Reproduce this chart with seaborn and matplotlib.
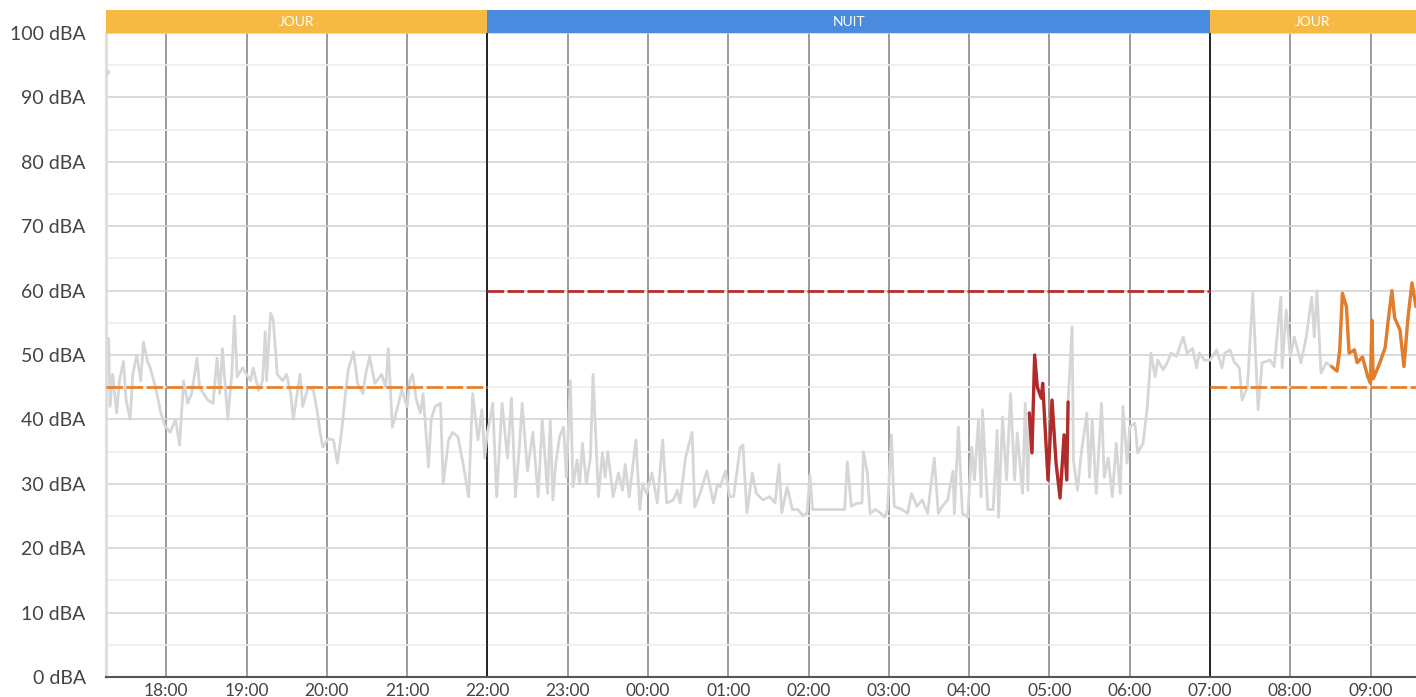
import pandas as pd
import matplotlib
matplotlib.use("Agg")
import matplotlib.pyplot as plt
import matplotlib.dates as mdates
from matplotlib.ticker import MultipleLocator
import seaborn as sns

# niveaux sonores relevés (heure, dBA)
heures = [
    "17:17", "17:18", "17:20", "17:23", "17:25", "17:28", "17:30", "17:33", "17:35", "17:38",
    "17:41", "17:43", "17:46", "17:48", "17:52", "17:56", "17:59", "18:03", "18:07", "18:10",
    "18:13", "18:16", "18:19", "18:23", "18:25", "18:28", "18:31", "18:35", "18:38", "18:40",
    "18:42", "18:46", "18:49", "18:51", "18:53", "18:57", "19:00", "19:03", "19:05", "19:09",
    "19:12", "19:14", "19:15", "19:18", "19:20", "19:23", "19:27", "19:30", "19:33", "19:35",
    "19:40", "19:42", "19:46", "19:50", "19:53", "19:55", "19:57", "20:01", "20:05", "20:08",
    "20:11", "20:14", "20:16", "20:20", "20:23", "20:27", "20:29", "20:32", "20:36", "20:41",
    "20:44", "20:46", "20:49", "20:53", "20:56", "21:00", "21:02", "21:04", "21:07", "21:10",
    "21:12", "21:16", "21:18", "21:21", "21:25", "21:27", "21:31", "21:34", "21:38", "21:42",
    "21:46", "21:49", "21:53", "21:56", "21:58", "22:00",
    "22:02", "22:04", "22:07", "22:11", "22:15", "22:18", "22:21", "22:24", "22:26", "22:30",
    "22:34", "22:38", "22:41", "22:45", "22:47", "22:49", "22:51", "22:54", "22:57", "22:59",
    "23:02", "23:04", "23:07", "23:09", "23:11", "23:14", "23:17", "23:19", "23:23", "23:26",
    "23:28", "23:30", "23:34", "23:38", "23:41", "23:43", "23:46", "23:51", "23:54", "23:56",
    "23:59", "00:03", "00:07", "00:11", "00:14", "00:19", "00:22", "00:24", "00:28", "00:33",
    "00:35", "00:39", "00:44", "00:49", "00:52", "00:54", "00:58", "01:01", "01:04", "01:09",
    "01:11", "01:14", "01:18", "01:21", "01:26", "01:31", "01:35", "01:38", "01:40", "01:44",
    "01:48", "01:52", "01:56", "01:59", "02:01", "02:03", "02:27", "02:29", "02:32", "02:36",
    "02:40", "02:41", "02:44", "02:46", "02:50", "02:53", "02:57", "02:59", "03:02", "03:04",
    "03:10", "03:14", "03:17", "03:21", "03:25", "03:29", "03:34", "03:37", "03:40", "03:44",
    "03:48", "03:49", "03:52", "03:55", "03:59", "04:02", "04:04", "04:07", "04:09", "04:10",
    "04:14", "04:18", "04:21", "04:22", "04:25", "04:28", "04:31", "04:34", "04:36", "04:40",
    "04:42", "04:44", "04:45", "04:47", "04:49", "04:51", "04:54", "04:55", "04:59", "05:02",
    "05:05", "05:08", "05:11", "05:13", "05:14", "05:17", "05:18", "05:21", "05:24", "05:28",
    "05:30", "05:32", "05:35", "05:39", "05:41", "05:44", "05:47", "05:50", "05:53", "05:55",
    "05:58", "06:00", "06:04", "06:06", "06:10", "06:13", "06:16", "06:19", "06:21", "06:25",
    "06:28", "06:31", "06:35", "06:40", "06:43", "06:47", "06:50", "06:52", "06:56", "07:00",
    "07:05", "07:09", "07:11", "07:15", "07:18", "07:22", "07:24", "07:28", "07:32", "07:36",
    "07:39", "07:45", "07:48", "07:53", "07:54", "07:57", "08:00", "08:03", "08:08", "08:12",
    "08:16", "08:18", "08:20", "08:23", "08:27", "08:31", "08:35", "08:37", "08:39", "08:42",
    "08:44", "08:48", "08:50", "08:54", "08:58", "09:00", "09:01", "09:02", "09:07", "09:11",
    "09:13", "09:16", "09:18", "09:22", "09:25", "09:28", "09:31", "09:34",
]
niveaux = [
    52.6, 42, 47, 41, 46, 49, 43, 40, 47, 50,
    46, 52, 49, 48, 45, 41, 39, 38, 40, 36,
    46, 42.5, 44, 49.5, 45, 44, 43, 42.5, 49.5, 44,
    51, 40, 47, 56, 46.6, 48, 47, 46, 48, 44.5,
    46, 53.6, 46, 56.5, 55.4, 47, 46, 47, 44, 40,
    47, 42, 45, 44.5, 41, 38, 35.7, 37, 36.8, 33.2,
    38, 44, 47.7, 50.5, 45.6, 44, 47, 49.7, 45.6, 47,
    45, 51, 38.8, 42, 44.6, 42, 46, 47, 43, 41,
    44, 32.6, 40, 42, 42.5, 30, 36.8, 38, 37.3, 33,
    28, 44, 36.8, 41.5, 34, 38,
    40, 42.5, 28, 42.5, 34, 43.3, 28, 36, 42.5, 32,
    38, 28, 40, 28.5, 40, 27.5, 33, 37.3, 38.8, 31,
    46, 29.5, 33.7, 30, 36.3, 30, 34, 47, 28, 34.8,
    31, 35, 28, 31.7, 29, 33, 28, 36.8, 26, 30,
    28.5, 31.7, 27, 36.8, 27, 27.5, 29, 27, 34, 38,
    26.4, 28.5, 32, 27, 30, 29.5, 32, 28, 28, 35.7,
    36, 25.5, 31.7, 28.5, 27.5, 28, 27, 33, 25.5, 29.5,
    26, 26, 25, 25.5, 31.4, 26, 26, 33.4, 26.5, 27,
    27, 35, 31.7, 25.4, 26, 25.6, 24.8, 26, 37.6, 26.5,
    26, 25.4, 28.5, 26.5, 27.5, 25.4, 34, 25.4, 26.5, 27.5,
    32, 25.4, 38.8, 25.4, 24.8, 35.7, 30.6, 40, 28, 41.5,
    26, 26, 38.3, 24.8, 40.4, 30.6, 44, 30.6, 37.9, 28.5,
    42.5, 29, 41, 34.8, 50, 45, 43.3, 45.6, 30.6, 43,
    33.2, 27.8, 37.6, 30.6, 42.7, 54.4, 33.7, 29, 35, 41,
    31, 40, 28.5, 42.5, 31, 34, 28, 36.3, 28.5, 42,
    33.2, 38.8, 39.4, 34.8, 36.3, 41.5, 50.3, 46.6, 49.2, 47.7,
    48.8, 50.3, 49.8, 52.8, 50.3, 51, 48, 50.3, 49.2, 49.2,
    50.8, 48, 50.3, 50.8, 49, 48, 43, 45, 59.6, 41.5,
    48.8, 49.2, 48.2, 59, 48, 57, 49.7, 52.8, 48.8, 52.8,
    59, 52.8, 60, 47.2, 48.8, 48.2, 47.5, 50.8, 59.6, 57.5,
    50.3, 50.8, 48.8, 49.7, 46.6, 45.6, 55.4, 46.3, 48.8, 51.2,
    55, 60, 55.8, 53.9, 48.2, 55.8, 61.2, 57.5,
]
point_isole_heure = ["17:16"]
point_isole_niveau = [94]

# périodes réglementaires et seuils
periode_noms = ["JOUR", "NUIT", "JOUR"]
periode_debut = ["17:15", "22:00", "07:00"]
periode_fin = ["22:00", "07:00", "09:34"]
periode_seuil = [45, 60, 45]
periode_couleur = ["#F5B944", "#4A8ADF", "#F5B944"]
seuil_couleur = ["#E8822F", "#B3312F", "#E8822F"]

# dépassements mis en évidence
depassement_debut = ["04:45", "08:31"]
depassement_fin = ["05:14", "09:34"]
depassement_couleur = ["#B22B2B", "#E27D2C"]


def to_dt(h):
    hh = int(h.split(":")[0])
    jour = "2024-05-01" if hh >= 12 else "2024-05-02"
    return pd.Timestamp(f"{jour} {h}")


df = pd.DataFrame({"heure": [to_dt(h) for h in heures], "niveau": niveaux})

sns.set_style("white")
plt.rcParams["font.family"] = ["Lato", "DejaVu Sans"]

fig = plt.figure(figsize=(14.16, 6.97), dpi=100)
ax = fig.add_axes([106 / 1416, 20 / 697, 1 - 106 / 1416, 644 / 697])
ax_band = fig.add_axes([106 / 1416, 664 / 697, 1 - 106 / 1416, 23 / 697], sharex=ax)

sns.lineplot(data=df, x="heure", y="niveau", color="#d6d6d6", lw=2,
             estimator=None, ax=ax, zorder=3)
ax.scatter([to_dt(h) for h in point_isole_heure], point_isole_niveau,
           color="#d6d6d6", s=8, zorder=3)

for d, f, c in zip(depassement_debut, depassement_fin, depassement_couleur):
    sub = df[(df["heure"] >= to_dt(d)) & (df["heure"] <= to_dt(f))]
    sns.lineplot(data=sub, x="heure", y="niveau", color=c, lw=2.4,
                 estimator=None, ax=ax, zorder=4)

for d, f, s, c in zip(periode_debut, periode_fin, periode_seuil, seuil_couleur):
    ax.hlines(s, to_dt(d), to_dt(f), colors=c, lw=2, linestyles=(0, (6, 1.2)), zorder=5)

ax.set_xlim(to_dt("17:15"), to_dt("09:34"))
ax.set_ylim(0, 100)
ax.set_yticks(range(0, 101, 10))
ax.set_yticklabels([f"{v} dBA" for v in range(0, 101, 10)])
ax.yaxis.set_minor_locator(MultipleLocator(5))
ax.xaxis.set_major_locator(mdates.HourLocator())
ax.xaxis.set_major_formatter(mdates.DateFormatter("%H:%M"))

ax.set_axisbelow(True)
ax.yaxis.grid(True, which="major", color="#d3d3d3", lw=1.2)
ax.yaxis.grid(True, which="minor", color="#eeeeee", lw=1.2)
ax.xaxis.grid(True, which="major", color="#857d7b", lw=1.1)
for h in ["22:00", "07:00"]:
    ax.axvline(to_dt(h), color="#111111", lw=1.2, zorder=2)

ax.tick_params(axis="y", which="both", length=0, pad=14.5, labelsize=14, labelcolor="#444444")
ax.tick_params(axis="x", length=0, pad=4, labelsize=12.5, labelcolor="#444444")
ax.set_xlabel("")
ax.set_ylabel("")
for s in ["top", "right"]:
    ax.spines[s].set_visible(False)
ax.spines["left"].set_color("#dddddd")
ax.spines["left"].set_linewidth(2)
ax.spines["bottom"].set_color("#555555")
ax.spines["bottom"].set_linewidth(1.5)

# bandeau des périodes
for nom, d, f, c in zip(periode_noms, periode_debut, periode_fin, periode_couleur):
    ax_band.axvspan(to_dt(d), to_dt(f), color=c, lw=0)
    milieu = to_dt(d) + (to_dt(f) - to_dt(d)) / 2
    ax_band.text(milieu, 0.5, nom, color="white", fontsize=10,
                 ha="center", va="center")
ax_band.set_ylim(0, 1)
ax_band.axis("off")

fig.savefig("out.png", dpi=100)
